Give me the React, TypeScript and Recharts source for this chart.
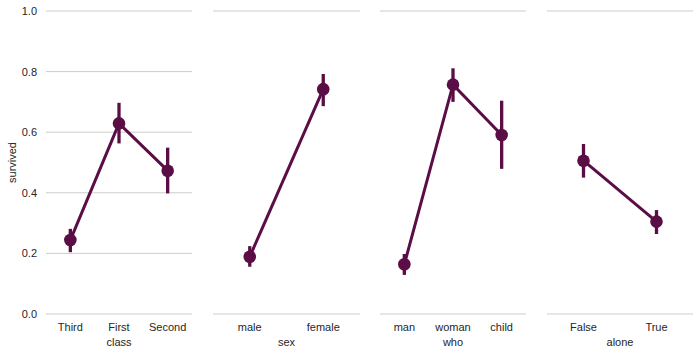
import { LineChart, Line, XAxis, YAxis, CartesianGrid, ErrorBar, Label } from 'recharts'

const COLOR = '#5a0e45'
const FONT = '"Liberation Sans", Arial, sans-serif'

const classCats = ['Third', 'First', 'Second']
const classMean = [0.244, 0.629, 0.473]
const classCi = [[0.204, 0.281], [0.563, 0.697], [0.398, 0.549]]

const sexCats = ['male', 'female']
const sexMean = [0.189, 0.742]
const sexCi = [[0.156, 0.224], [0.686, 0.792]]

const whoCats = ['man', 'woman', 'child']
const whoMean = [0.164, 0.757, 0.591]
const whoCi = [[0.129, 0.198], [0.7, 0.811], [0.479, 0.704]]

const aloneCats = ['False', 'True']
const aloneMean = [0.506, 0.305]
const aloneCi = [[0.45, 0.561], [0.264, 0.343]]

const yTicks = [0, 0.2, 0.4, 0.6, 0.8, 1.0]

function rows(cats: string[], mean: number[], ci: number[][]) {
  return cats.map((c, i) => ({
    name: c,
    value: mean[i],
    err: [mean[i] - ci[i][0], ci[i][1] - mean[i]],
  }))
}

type PanelProps = {
  left: number
  width: number
  cats: string[]
  mean: number[]
  ci: number[][]
  xLabel: string
  showY?: boolean
}

function Panel({ left, width, cats, mean, ci, xLabel, showY }: PanelProps) {
  const data = rows(cats, mean, ci)
  const yW = showY ? 46 : 0
  // half a band on each side so points sit at band centres like seaborn
  const pad = width / (2 * cats.length)
  return (
    <div style={{ position: 'absolute', left: left - yW, top: 0 }}>
      <LineChart
        width={width + yW}
        height={355}
        data={data}
        margin={{ top: 11, right: 0, bottom: 0, left: 0 }}
        style={{ overflow: 'visible' }}
      >
        <CartesianGrid vertical={false} stroke="#cccccc" strokeWidth={1} />
        <XAxis
          dataKey="name"
          type="category"
          axisLine={false}
          tickLine={false}
          tickSize={0}
          tickMargin={9}
          height={41}
          interval={0}
          padding={{ left: pad, right: pad }}
          tick={{ fill: '#262626', fontSize: 11, fontFamily: FONT }}
        >
          <Label
            value={xLabel}
            position="insideBottom"
            offset={9}
            style={{ fill: '#262626', fontSize: 11, fontFamily: FONT }}
          />
        </XAxis>
        <YAxis
          domain={[0, 1]}
          ticks={yTicks}
          type="number"
          width={yW}
          axisLine={false}
          tickLine={false}
          tickSize={0}
          tickMargin={9}
          tick={showY ? { fill: '#262626', fontSize: 11, fontFamily: FONT } : false}
          tickFormatter={(v: number) => v.toFixed(1)}
        >
          {showY && (
            <Label
              value="survived"
              angle={-90}
              position="insideLeft"
              offset={0}
              dx={12}
              style={{ fill: '#262626', fontSize: 11, fontFamily: FONT, textAnchor: 'middle' }}
            />
          )}
        </YAxis>
        <Line
          dataKey="value"
          stroke={COLOR}
          strokeWidth={3}
          isAnimationActive={false}
          dot={{ r: 6.3, fill: COLOR, stroke: COLOR, strokeWidth: 0 }}
          activeDot={false}
        >
          <ErrorBar dataKey="err" direction="y" width={0} stroke={COLOR} strokeWidth={3.3} />
        </Line>
      </LineChart>
    </div>
  )
}

export default function App() {
  return (
    <div style={{ position: 'absolute', left: 0, top: 0, width: 700, height: 355, background: '#fff' }}>
      <Panel left={46} width={146} cats={classCats} mean={classMean} ci={classCi} xLabel="class" showY />
      <Panel left={213} width={147} cats={sexCats} mean={sexMean} ci={sexCi} xLabel="sex" />
      <Panel left={380} width={146} cats={whoCats} mean={whoMean} ci={whoCi} xLabel="who" />
      <Panel left={547} width={146} cats={aloneCats} mean={aloneMean} ci={aloneCi} xLabel="alone" />
    </div>
  )
}
